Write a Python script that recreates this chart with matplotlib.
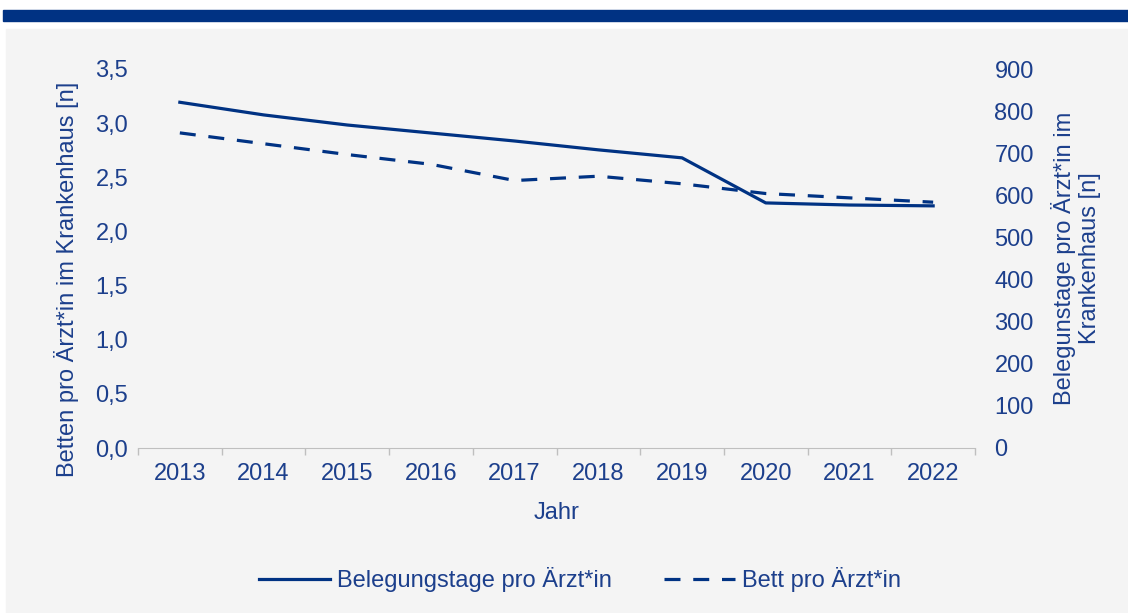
import matplotlib.pyplot as plt
from matplotlib.patches import Rectangle
from matplotlib.ticker import FuncFormatter

plt.rcParams['font.family'] = ['Liberation Sans', 'DejaVu Sans']

# Daten
jahre = ['2013', '2014', '2015', '2016', '2017', '2018', '2019', '2020', '2021', '2022']
belegungstage = [821, 791, 767, 748, 729, 708, 689, 582, 577, 575]
betten = [2.91, 2.81, 2.71, 2.62, 2.47, 2.51, 2.44, 2.35, 2.31, 2.27]

blau = '#003283'
text_blau = '#1c3f8c'
grau = '#bfbfbf'
fs = 17

fig = plt.figure(figsize=(11.28, 6.13), dpi=100)
fig.patch.set_facecolor('white')

# Balken oben und grauer Hintergrund
fig.patches.append(Rectangle((3 / 1128, 1 - 20.7 / 613), 1, 10.7 / 613,
                             transform=fig.transFigure, color=blau, zorder=-5))
fig.patches.append(Rectangle((6 / 1128, 0), 1, 1 - 29 / 613,
                             transform=fig.transFigure, color='#f4f4f4', zorder=-5))

ax = fig.add_axes([138 / 1128, 1 - 448 / 613, 837 / 1128, 379 / 613])
ax.set_facecolor('none')
ax2 = ax.twinx()

x = list(range(len(jahre)))
l2, = ax.plot(x, betten, color=blau, lw=2.3, dashes=(5, 4), label='Bett pro Ärzt*in')
l1, = ax2.plot(x, belegungstage, color=blau, lw=2.3, label='Belegungstage pro Ärzt*in')

ax.set_xlim(-0.5, len(jahre) - 0.5)
ax.set_ylim(0, 3.5)
ax2.set_ylim(0, 900)
ax.set_yticks([i * 0.5 for i in range(8)])
ax2.set_yticks(range(0, 901, 100))
ax.yaxis.set_major_formatter(FuncFormatter(lambda v, p: f'{v:.1f}'.replace('.', ',')))

# Kategorien-Achse: Striche zwischen den Jahren
ax.set_xticks([i - 0.5 for i in range(len(jahre) + 1)])
ax.set_xticklabels([])
ax.set_xticks(x, minor=True)
ax.set_xticklabels(jahre, minor=True)
ax.tick_params(axis='x', which='major', length=5, color=grau, width=1)
ax.tick_params(axis='x', which='minor', length=0, pad=11, labelsize=fs, labelcolor=text_blau)

for a in (ax, ax2):
    for s in a.spines.values():
        s.set_visible(False)
    a.tick_params(axis='y', length=0, labelsize=fs, labelcolor=text_blau)
ax.spines['bottom'].set_visible(True)
ax.spines['bottom'].set_color(grau)
ax.tick_params(axis='y', pad=7)
ax2.tick_params(axis='y', pad=14)

ax.set_xlabel('Jahr', fontsize=fs, color=text_blau, labelpad=12)
ax.set_ylabel('Betten pro Ärzt*in im Krankenhaus [n]', fontsize=fs, color=text_blau,
              labelpad=12, y=0.446)
ax2.set_ylabel('Belegunstage pro Ärzt*in im\nKrankenhaus [n]', fontsize=fs, color=text_blau,
               labelpad=12, linespacing=1.2)

fig.legend(handles=[l1, l2], loc='center', bbox_to_anchor=(0.514, 1 - 580 / 613), ncol=2,
           frameon=False, fontsize=fs, labelcolor=text_blau, handlelength=3.0,
           handletextpad=0.3, columnspacing=2.2)

fig.savefig('out.png', dpi=100)
